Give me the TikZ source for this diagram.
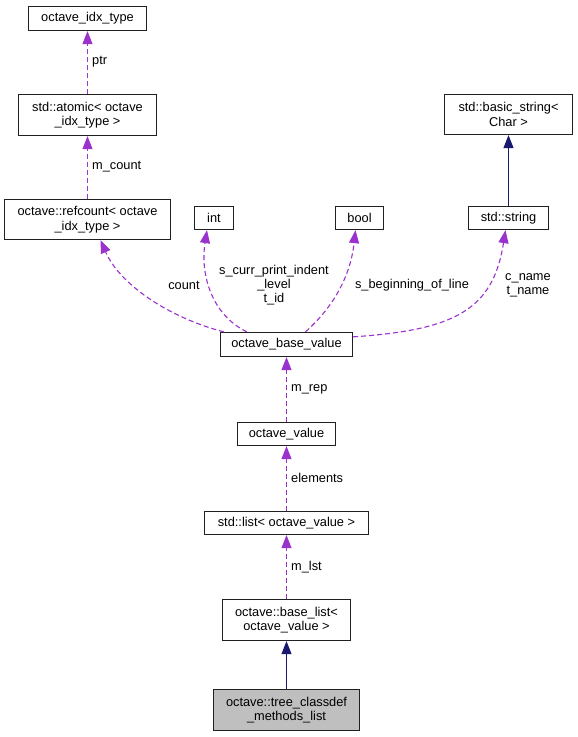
\documentclass[tikz,border=0pt]{standalone}
\usepackage{fontspec}
\setmainfont{Liberation Sans}
\usetikzlibrary{arrows.meta}
\definecolor{depc}{HTML}{9A32CD}
\definecolor{inhc}{HTML}{191970}
\definecolor{grayfill}{HTML}{BFBFBF}
\definecolor{boxline}{HTML}{202020}
\begin{document}
\begin{tikzpicture}[x=1pt,y=-1pt,
  box/.style={draw=boxline, line width=1.3pt, fill=white, inner sep=0pt, align=center,
    font=\fontsize{12.8}{14.5}\selectfont},
  lbl/.style={inner sep=0pt, align=center, font=\fontsize{12.8}{14}\selectfont},
  depedge/.style={draw=depc, line width=1.1pt, dash pattern=on 5pt off 3pt,
    -{Triangle[length=13pt,width=10pt,fill=depc]}},
  inhedge/.style={draw=inhc, line width=1.1pt,
    -{Triangle[length=13pt,width=10pt,fill=inhc]}}]
\useasboundingbox (0,0) rectangle (578,737);
% nodes
\node[box, minimum width=118, minimum height=24] (idx) at (87.5,18.5) {octave\_idx\_type};
\node[box, minimum width=138, minimum height=41] (atomic) at (87.5,115) {std::atomic< octave\\\_idx\_type >};
\node[box, minimum width=166, minimum height=40] (rc) at (87.5,219.5) {octave::refcount< octave\\\_idx\_type >};
\node[box, minimum width=39, minimum height=23] (int) at (214,218) {int};
\node[box, minimum width=48, minimum height=23] (bool) at (359.5,218) {bool};
\node[box, minimum width=80, minimum height=23] (str) at (508.5,218) {std::string};
\node[box, minimum width=128, minimum height=40] (bstr) at (508.5,114.5) {std::basic\_string<\\Char >};
\node[box, minimum width=132, minimum height=24] (obv) at (286.5,344.5) {octave\_base\_value};
\node[box, minimum width=98, minimum height=23] (ov) at (286.5,434) {octave\_value};
\node[box, minimum width=164, minimum height=23] (list) at (286.5,523) {std::list< octave\_value >};
\node[box, minimum width=128, minimum height=41] (blist) at (286.5,620) {octave::base\_list<\\octave\_value >};
\node[box, fill=grayfill, minimum width=146, minimum height=41] (tree) at (286.5,710) {octave::tree\_classdef\\\_methods\_list};
% straight edges
\draw[depedge] (atomic.north) -- (idx.south);
\draw[depedge] (rc.north) -- (atomic.south);
\draw[inhedge] (str.north) -- (bstr.south);
\draw[depedge] (ov) -- (obv);
\draw[depedge] (list) -- (ov);
\draw[depedge] (blist) -- (list);
\draw[inhedge] (tree) -- (blist);
% curved edges
\draw[depedge] ([xshift=4pt]obv.north west) .. controls (170,318) and (120,285) .. ([xshift=13pt]rc.south);
\draw[depedge] ([xshift=27pt]obv.north west) .. controls (212,315) and (200,275) .. ([xshift=-7pt]int.south);
\draw[depedge] ([xshift=19pt]obv.north) .. controls (330,310) and (350,280) .. ([xshift=-4pt]bool.south);
\draw[depedge] ([yshift=-5pt]obv.north east) .. controls (455,330) and (493,310) .. ([xshift=-3pt]str.south);
% labels
\node[lbl, anchor=west] (lptr) at (92,62) {ptr};
\node[lbl, anchor=west] (lmc) at (92,167) {m\_count};
\node[lbl] (lcount) at (184,285) {count};
\node[lbl] (lint) at (274,285) {s\_curr\_print\_indent\\\_level\\t\_id};
\node[lbl] (lbool) at (412,285) {s\_beginning\_of\_line};
\node[lbl] (lstr) at (528,285) {c\_name\\t\_name};
\node[lbl, anchor=west] (lrep) at (291,389) {m\_rep};
\node[lbl, anchor=west] (lel) at (291,478) {elements};
\node[lbl, anchor=west] (llst) at (291,567) {m\_lst};
\end{tikzpicture}
\end{document}
